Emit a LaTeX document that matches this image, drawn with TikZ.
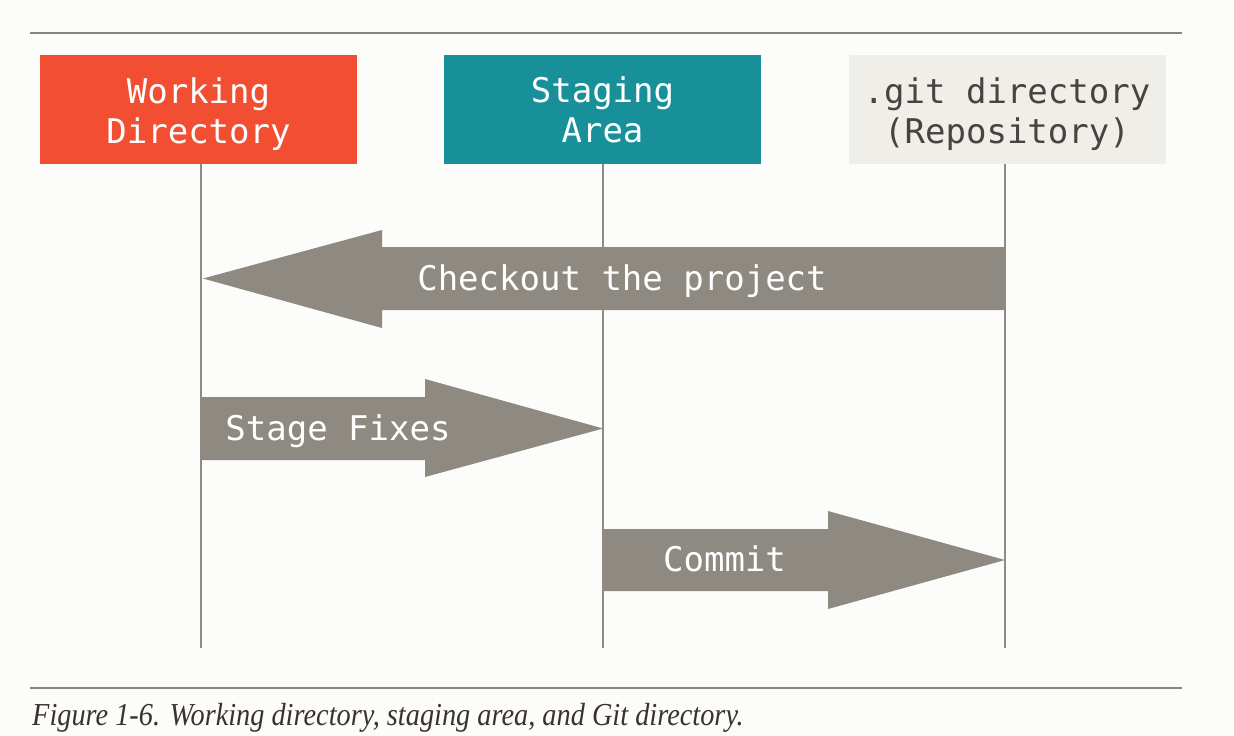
\documentclass[tikz,border=0pt]{standalone}
\usepackage{fontspec}
\setmainfont{Liberation Serif}
\setmonofont{DejaVu Sans Mono}
\definecolor{bgc}{HTML}{FCFCFA}
\definecolor{wdc}{HTML}{F14E32}
\definecolor{sac}{HTML}{17909A}
\definecolor{gdc}{HTML}{EFEEE8}
\definecolor{gdt}{HTML}{4A4240}
\definecolor{arc}{HTML}{8E8981}
\definecolor{lnc}{HTML}{8F8A84}
\definecolor{rulec}{HTML}{888580}
\definecolor{capc}{HTML}{3A3230}
\tikzset{
  area/.style={minimum width=317pt, minimum height=109pt, inner sep=0pt},
  areatext/.style={inner sep=0pt, align=center, font=\ttfamily\fontsize{34}{40}\selectfont},
  lifeline/.style={draw=lnc, line width=2pt},
  blockarrow/.style={fill=arc, draw=none},
  arrowtext/.style={anchor=base, text=white, inner sep=0pt, font=\ttfamily\fontsize{34}{40}\selectfont},
  rulestyle/.style={draw=rulec, line width=2pt}
}
\begin{document}
\begin{tikzpicture}[x=1pt, y=-1pt]
\useasboundingbox (0,0) rectangle (1234,736);
\fill[bgc] (0,0) rectangle (1234,736);
% rules
\coordinate (rtl) at (30,33); \coordinate (rtr) at (1182,33);
\coordinate (rbl) at (30,688); \coordinate (rbr) at (1182,688);
\draw[rulestyle] (rtl) -- (rtr);
\draw[rulestyle] (rbl) -- (rbr);
% area boxes
\node[area, fill=wdc] (wd) at (198.5,109.5) {};
\node[area, fill=sac] (sa) at (602.5,109.5) {};
\node[area, fill=gdc] (gd) at (1007,109.5) {};
\node[areatext, text=white] (wdt) at (198.5,114) {Working\\Directory};
\node[areatext, text=white] (sat) at (602.5,109.5) {Staging\\Area};
\node[areatext, text=gdt] (gdt) at (1007,114) {.git directory\\(Repository)};
% lifeline ends
\coordinate (wdb) at (201,648);
\coordinate (sab) at (603,648);
\coordinate (gdb) at (1005,648);
\draw[lifeline] (wd.south -| wdb) -- (wdb);
\draw[lifeline] (sa.south -| sab) -- (sab);
\draw[lifeline] (gd.south -| gdb) -- (gdb);
% Checkout arrow
\fill[blockarrow] (1005,247) -- (382,247) -- (382,230) -- (203,278.5) -- (382,328) -- (382,310) -- (1005,310) -- cycle;
\node[arrowtext] (co) at (622,290) {Checkout the project};
% Stage Fixes arrow
\fill[blockarrow] (201,397) -- (425,397) -- (425,379) -- (603,428.5) -- (425,477) -- (425,460) -- (201,460) -- cycle;
\node[arrowtext] (sf) at (338,440) {Stage Fixes};
% Commit arrow
\fill[blockarrow] (603,529) -- (828,529) -- (828,511) -- (1005,560) -- (828,609) -- (828,591) -- (603,591) -- cycle;
\node[arrowtext] (cm) at (724.5,571.5) {Commit};
% caption
\node[anchor=base west, inner sep=0pt, text=capc, font=\itshape\fontsize{32}{34}\selectfont] (cap) at (32,725)
  {\scalebox{0.885}[1]{Figure 1-6. Working directory, staging area, and Git directory.}};
\end{tikzpicture}
\end{document}
